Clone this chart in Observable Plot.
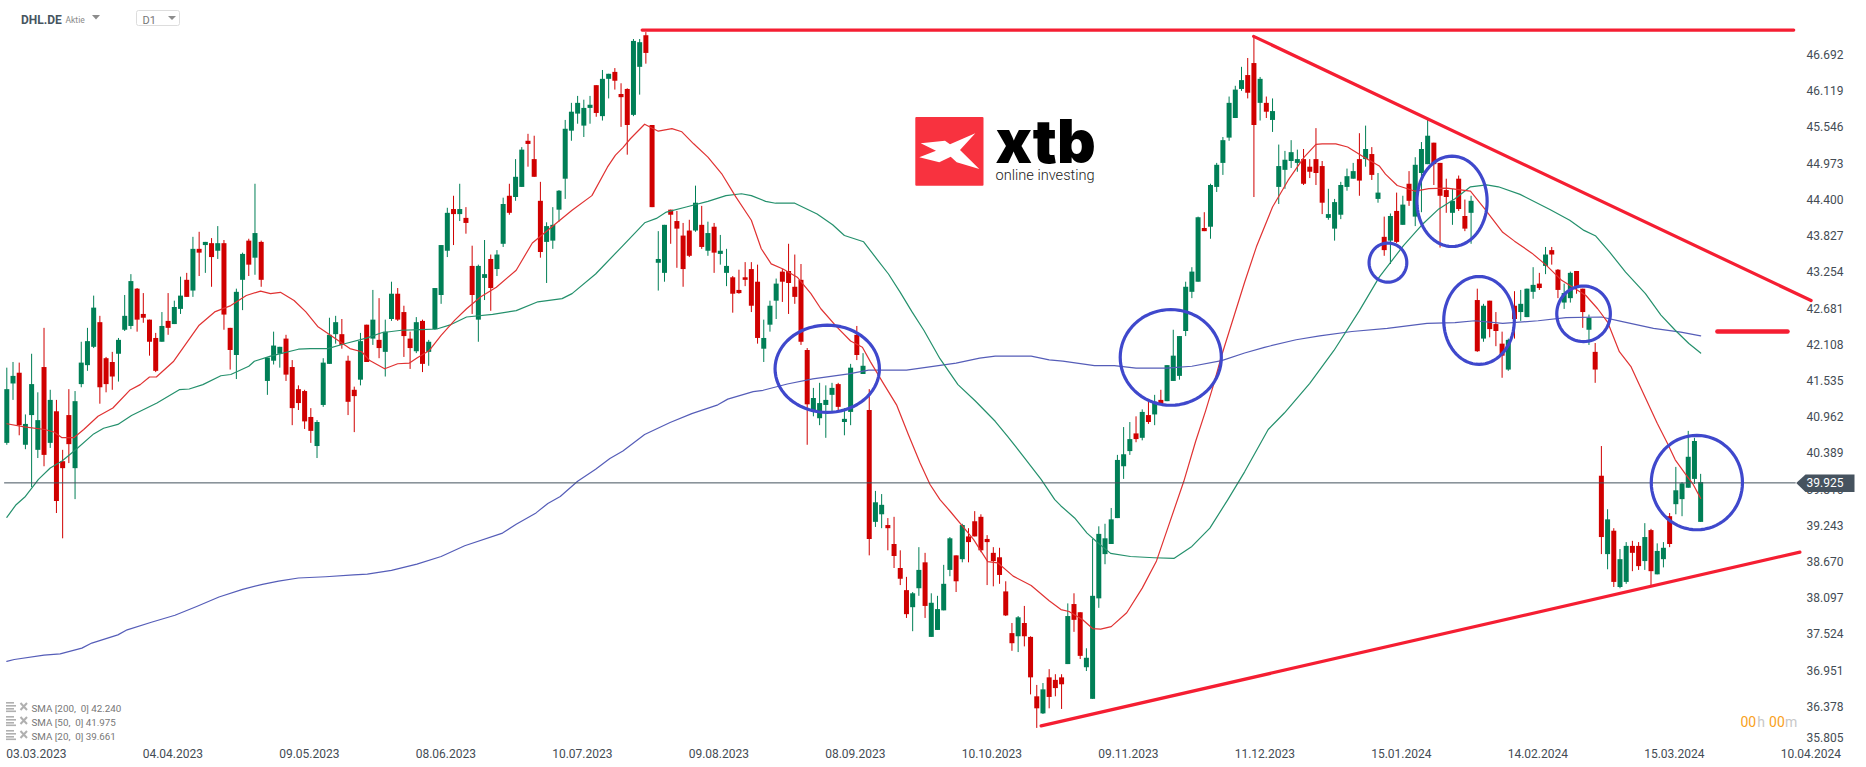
<!DOCTYPE html>
<html><head><meta charset="utf-8">
<script src="https://cdn.jsdelivr.net/npm/d3@7"></script>
<script src="https://cdn.jsdelivr.net/npm/@observablehq/plot@0.6"></script>
<style>html,body{margin:0;padding:0;background:#fff;overflow:hidden}#wrap{position:relative;width:1866px;height:767px}#wrap svg{display:block}#chrome{position:absolute;left:0;top:0;pointer-events:none}</style>
</head><body><div id="wrap"></div>
<script>
const opens=[40.55,41.49,41.66,40.52,40.99,40.44,41.75,40.55,41.05,40.26,
40.99,40.15,41.48,41.78,42.07,42.46,41.89,41.83,41.96,42.34,
42.40,42.99,42.59,42.50,42.21,42.15,42.48,42.43,42.67,43.13,
42.96,43.62,43.68,43.71,43.59,43.71,42.37,41.94,43.13,43.75,
43.48,43.73,41.53,41.85,41.96,42.20,41.75,41.40,41.37,40.96,
40.50,41.15,41.80,42.27,42.27,41.85,41.39,41.55,42.42,42.20,
42.18,41.99,42.51,42.91,42.62,42.20,42.00,42.48,41.99,42.35,
42.89,43.59,44.25,44.17,44.11,43.35,42.50,43.16,43.46,43.30,
43.70,44.46,44.44,44.60,45.33,45.04,44.38,43.73,43.75,44.24,
44.73,45.49,45.76,45.57,45.85,46.21,45.72,46.31,46.42,46.07,
46.15,45.74,46.50,47.00,45.58,43.40,43.24,44.24,44.06,43.83,
43.91,43.91,44.00,43.59,43.97,43.54,43.24,43.17,42.97,43.17,
43.30,43.10,42.04,42.42,42.80,43.26,43.27,43.02,43.13,42.02,
41.04,40.94,41.15,41.31,41.48,40.88,41.04,42.26,41.64,41.07,
39.30,39.42,39.25,38.95,38.57,38.22,37.95,38.25,38.66,37.48,
37.59,37.90,38.54,38.77,38.71,39.07,39.31,39.38,39.03,38.81,
38.74,38.20,37.54,37.49,37.70,37.48,36.54,36.27,36.84,36.80,
36.84,37.05,38.00,37.87,37.00,36.50,38.09,38.79,38.95,39.36,
40.18,40.42,40.70,40.63,40.99,41.00,41.23,41.21,41.53,41.61,
42.32,42.94,43.10,43.95,43.97,44.60,44.98,45.38,45.69,46.15,
46.37,46.56,45.93,45.93,45.66,44.60,44.87,45.01,44.98,45.04,
44.92,45.04,44.93,44.11,43.94,44.16,44.60,44.73,45.04,45.04,
45.12,44.41,43.81,43.75,44.22,44.00,44.65,44.13,44.82,44.96,
45.30,44.98,44.55,44.19,44.73,44.14,44.19,42.81,42.20,42.80,
42.43,42.12,41.71,42.72,42.62,42.54,42.94,43.07,43.35,43.60,
43.29,42.77,42.84,43.27,42.99,42.34,41.99,40.03,38.79,39.16,
38.27,38.35,38.92,38.92,38.68,39.17,38.47,38.71,39.39,39.58,
39.66,39.84,39.98,39.30];
const closes=[41.40,41.61,40.83,40.85,41.48,40.91,40.36,41.23,39.63,40.15,
40.53,41.21,41.82,42.16,42.69,41.43,41.48,41.60,42.18,42.56,
43.11,42.50,42.53,42.15,41.69,42.40,42.37,42.70,42.88,42.86,
43.62,43.56,43.73,43.49,43.71,42.58,42.02,42.94,43.54,43.37,
43.87,43.13,41.90,42.09,42.07,41.63,41.10,41.18,40.89,40.74,
40.88,41.82,42.26,42.46,42.10,41.20,41.29,42.16,41.83,42.50,
42.05,42.31,42.91,42.50,42.24,42.05,42.46,41.80,42.15,43.00,
43.68,44.19,44.17,44.25,44.03,42.89,43.35,43.22,43.00,43.53,
44.33,44.19,44.76,45.19,45.28,44.76,43.57,43.98,44.00,44.54,
45.52,45.79,45.93,45.85,45.90,45.77,46.31,46.39,46.28,46.02,
45.58,46.91,46.89,46.72,44.28,43.46,44.00,44.16,43.94,43.30,
43.51,44.35,43.65,43.87,43.56,43.59,43.35,42.91,42.92,43.13,
42.72,42.21,42.21,42.72,43.07,43.10,43.08,42.86,42.15,41.16,
41.26,41.18,41.23,41.42,41.12,40.93,41.74,41.94,41.77,39.03,
39.61,39.57,39.20,38.76,38.40,37.84,38.17,38.54,37.97,38.02,
37.92,38.32,39.04,38.36,39.25,38.98,39.07,38.85,38.98,38.68,
38.46,37.82,37.38,37.79,37.49,36.84,36.35,36.65,36.53,36.67,
36.73,37.81,37.75,37.18,37.15,38.13,39.11,39.04,39.34,40.28,
40.37,40.61,40.61,41.04,40.88,41.20,41.16,41.78,41.93,42.24,
43.02,43.26,44.12,43.90,44.63,44.95,45.34,45.93,46.14,46.29,
46.09,45.58,46.31,45.79,45.80,44.93,45.03,45.15,45.04,44.65,
44.84,44.82,44.35,44.17,44.36,44.63,44.77,44.85,44.70,45.20,
44.79,44.51,43.60,44.14,43.73,44.32,44.38,44.95,45.20,45.41,
44.96,44.46,44.44,44.38,44.25,43.94,44.38,42.00,42.72,42.35,
42.32,41.93,42.18,42.51,42.75,42.99,43.05,43.00,43.53,43.53,
42.97,42.92,43.24,43.02,42.62,42.53,41.71,39.06,39.34,38.35,
38.71,38.92,38.81,38.60,39.06,38.52,38.84,38.89,38.95,39.80,
39.91,40.33,40.58,39.93];
const highs=[41.74,41.83,41.82,41.00,41.96,41.35,42.37,41.39,41.23,40.44,
41.40,41.37,42.15,42.37,42.88,42.56,41.91,41.99,42.21,42.89,
43.22,43.00,42.92,42.50,42.29,42.62,42.92,42.80,43.18,43.24,
43.81,43.89,43.73,43.79,43.98,43.76,42.37,42.99,43.56,43.78,
44.65,43.75,41.90,42.31,42.07,42.26,41.86,41.46,41.39,41.10,
40.91,41.89,42.53,42.56,42.51,41.93,41.44,42.29,42.42,42.97,
42.84,42.50,43.10,43.00,42.72,42.31,42.54,42.50,42.18,43.00,
43.68,44.27,44.46,44.65,44.28,43.67,43.37,43.76,43.53,43.60,
44.43,44.65,45.04,45.23,45.44,45.41,44.68,44.04,44.28,44.55,
45.66,45.93,46.04,45.98,46.04,46.21,46.45,46.39,46.48,46.24,
46.16,46.94,46.94,47.05,45.58,43.90,44.00,44.24,44.22,44.03,
44.08,44.62,44.30,44.05,44.03,43.84,43.62,43.19,43.29,43.41,
43.41,43.37,42.50,42.80,43.15,43.30,43.70,43.53,43.38,42.05,
41.42,41.50,41.46,41.50,41.50,41.10,41.80,42.40,41.97,41.40,
39.79,39.74,39.36,39.38,38.85,38.43,38.19,38.90,38.81,38.17,
38.13,38.62,39.06,38.77,39.27,39.20,39.47,39.42,39.09,38.90,
38.89,38.36,37.70,37.81,37.97,37.49,36.72,36.75,36.97,36.89,
36.89,38.01,38.17,37.87,37.30,39.03,39.23,39.27,39.52,40.36,
40.80,40.88,40.97,41.08,41.20,41.31,41.39,41.78,42.34,42.24,
43.10,43.33,44.13,44.20,44.65,44.98,45.39,46.03,46.20,46.50,
46.64,46.99,46.34,46.03,46.00,45.27,45.17,45.34,45.19,45.20,
45.04,45.53,45.01,44.57,44.41,44.68,44.89,44.98,45.45,45.57,
45.23,44.82,44.13,44.18,44.51,44.46,44.85,45.07,45.31,45.66,
45.30,44.98,44.73,44.57,44.78,44.40,44.46,42.99,42.75,42.80,
42.62,42.31,42.20,42.95,42.97,42.99,43.33,43.24,43.65,43.65,
43.30,43.07,43.26,43.27,42.99,42.58,42.13,40.50,39.50,39.20,
38.87,38.98,39.00,38.98,39.28,39.19,38.96,38.98,39.44,40.17,
39.93,40.74,40.63,40.06];
const lows=[40.52,41.23,40.67,40.45,39.85,40.31,40.18,40.47,39.44,39.04,
40.23,39.66,41.43,41.69,42.05,41.17,41.35,41.39,41.52,42.32,
42.35,42.31,42.45,41.93,41.67,42.15,42.26,42.43,42.59,42.86,
42.86,43.19,43.24,43.02,43.46,42.34,41.71,41.56,42.65,43.19,
43.21,43.02,41.31,41.79,41.74,41.53,40.83,41.07,40.77,40.55,
40.31,41.12,41.80,42.12,42.04,40.99,40.72,41.46,41.83,42.10,
41.89,41.60,42.48,42.48,41.91,41.72,41.97,41.67,41.77,42.34,
42.75,43.49,43.68,44.06,43.86,42.59,42.15,42.81,42.64,43.19,
43.65,44.16,44.38,44.60,44.92,44.76,43.48,43.08,43.62,44.05,
44.41,45.33,45.60,45.39,45.60,45.71,45.65,46.00,46.14,45.55,
45.11,45.72,46.06,46.55,44.28,42.96,43.10,43.70,43.32,43.02,
43.49,43.89,43.62,43.51,43.24,43.37,43.03,42.61,42.91,43.03,
42.62,42.12,41.83,42.31,42.51,42.78,42.59,42.75,42.10,40.52,
40.97,40.83,40.63,41.04,41.07,40.67,40.83,41.86,41.64,38.77,
39.22,39.20,38.85,38.57,38.30,37.78,37.57,38.13,37.78,37.48,
37.59,37.90,38.44,38.19,38.66,38.66,39.07,38.82,38.30,38.28,
38.32,37.81,37.26,37.24,37.33,36.57,36.04,36.26,36.35,36.54,
36.34,37.05,37.56,37.13,36.94,36.50,37.94,38.63,38.95,39.36,
39.98,40.36,40.56,40.59,40.85,40.83,41.15,41.21,41.53,41.55,
42.24,42.84,43.10,43.90,43.78,44.52,44.79,45.33,45.69,46.12,
46.00,44.44,45.65,45.69,45.47,44.33,44.57,44.90,44.84,44.63,
44.74,44.63,44.17,44.08,43.75,44.09,44.54,44.73,44.46,44.92,
44.71,44.35,43.51,43.38,43.71,44.00,44.30,43.98,44.20,44.96,
44.63,43.64,44.19,44.00,44.22,43.90,43.70,41.99,42.15,42.22,
42.08,41.58,41.69,42.20,42.48,42.54,42.83,42.97,43.22,43.37,
42.84,42.67,42.77,42.91,42.37,42.10,41.50,38.79,38.55,38.27,
38.25,38.32,38.52,38.54,38.54,38.30,38.47,38.58,38.90,39.42,
39.39,39.84,39.90,39.30];

const sma20Idx=[0,2.8,6.1,7.6,8.9,10.8,12.4,14.7,17.1,19.8,21.5,23,24.1,26.9,31,33.5,36.1,38.6,40.9,42.5,44.1,46.3,48.2,50.1,54,55.3,57.2,58.5,60.9,63,64.9,66.1,68.1,70,72.2,74.1,76.4,78.9,82.1,84.7,88.5,91.1,94.3,96.8,98.1,99.3,100.5,102.8,105,107.2,108.8,110.7,113,115.2,117.5,120,121.6,123.2,125.1,127.4,129.6,131.2,133.8,136,137.9,139.2,141.4,143.4,145.3,147.2,148.8,150.4,152,154.2,155.8,158.1,159.7,162.2,165.1,168,169.9,171.2,173.4,175,176.3,178,180.5,183,185.3,187.5,189.7,191.6,193.2,194.5,195.8,199.5,201.4,204,206.5,209.1,211,212,214.2,216.1,218.7,221.2,222.2,224.1,227,229.2,232.1,235.9,238.2,241.1,243,245.8,248.1,250.6,254.5,256.4,258,259.9,261.8,263.1,266,267.6,268.9,270.5,271.8,273];
const sma20Val=[40.86,40.81,40.77,40.73,40.64,40.64,40.77,40.98,41.11,41.39,41.48,41.6,41.6,41.85,42.42,42.63,42.73,42.89,42.96,42.92,42.94,42.81,42.63,42.4,42.14,42.05,42.0,41.86,41.73,41.81,41.82,41.9,42.02,42.26,42.5,42.68,42.87,43.02,43.29,43.72,44.03,44.24,44.47,44.92,45.11,45.23,45.37,45.6,45.49,45.53,45.48,45.29,45.08,44.82,44.45,44.08,43.63,43.39,43.31,43.18,42.92,42.68,42.39,42.17,42.07,41.84,41.48,41.16,40.69,40.24,39.9,39.66,39.48,39.22,39.03,38.68,38.66,38.45,38.3,38.06,37.92,37.89,37.76,37.62,37.61,37.65,37.87,38.26,38.69,39.32,39.95,40.58,41.06,41.48,41.94,43.1,43.66,44.29,44.71,45.08,45.28,45.29,45.29,45.24,45.08,44.94,44.81,44.63,44.54,44.58,44.59,44.54,44.26,43.89,43.75,43.56,43.37,43.13,42.89,42.68,42.47,42.0,41.76,41.48,40.87,40.56,40.29,40.07,39.9,39.68];
const sma50Idx=[0,1.5,3,5.1,7,8.9,11.1,14,15.6,17.9,20.1,24.2,27.8,29.4,31.6,34.5,36.1,39,39.9,42.5,47,48.9,51.7,54.6,58.1,60.4,63.6,66.8,69.3,71.6,74.1,78.3,82.1,85.6,89.5,91.1,94.9,99.3,102.8,104.7,106.3,109.5,113,115.9,118.4,120,122.3,123.9,127,130.6,133.1,135,138.1,140.2,142.1,144,145.9,147.8,150.4,153.3,156.1,159.3,161.3,163.8,166.7,168.9,169.9,172.1,174.1,175.7,177.9,181.1,184.9,188.1,191,193.9,196.8,199.5,203.3,205.9,210,213.9,218,221.2,225.1,228.3,230.8,233.4,235.9,238.5,240.4,243.9,248.7,251.9,254.2,256.1,258.3,260.9,264.1,266.6,268.9,271.1,273];
const sma50Val=[39.38,39.58,39.71,39.98,40.16,40.27,40.45,40.7,40.79,40.85,40.99,41.19,41.4,41.41,41.48,41.62,41.64,41.77,41.85,41.93,42.04,42.05,42.05,42.13,42.22,42.3,42.34,42.35,42.36,42.43,42.55,42.59,42.65,42.79,42.84,42.92,43.23,43.68,44.04,44.11,44.21,44.29,44.38,44.47,44.5,44.47,44.38,44.35,44.35,44.18,44.01,43.84,43.74,43.47,43.23,42.94,42.63,42.34,41.89,41.48,41.22,40.9,40.66,40.35,39.98,39.66,39.56,39.37,39.13,38.99,38.81,38.76,38.74,38.73,38.92,39.21,39.66,40.1,40.77,41.03,41.5,42.02,42.65,43.18,43.68,44.03,44.26,44.42,44.61,44.64,44.61,44.49,44.25,44.08,43.92,43.83,43.58,43.26,42.92,42.58,42.34,42.13,41.98];
const sma200Idx=[0,1.2,6,8.6,12.1,13.7,17.9,19.4,23.3,27.1,30.6,34.2,38,41.2,43.8,47,51.4,55.9,58.1,62,66.1,70,73.8,79.9,82.1,85.3,87.2,89.2,92,94.9,97.2,99.3,102.8,106.9,110.4,114.6,116.2,120.3,121.9,125.8,129.9,135.7,138.9,145,153,156.8,159.3,165.1,168,170.2,175.3,178.5,182,186.9,191,195.8,199.5,202.7,207.8,211.6,216.8,222.5,228.9,233.4,236.6,241.1,246.8,251.3,257,260.2,265.4,269.8,273];
const sma200Val=[37.10,37.13,37.2,37.22,37.31,37.39,37.52,37.6,37.72,37.83,37.97,38.12,38.24,38.32,38.37,38.42,38.44,38.47,38.48,38.54,38.64,38.76,38.93,39.13,39.27,39.45,39.6,39.71,39.95,40.14,40.31,40.43,40.69,40.88,41.02,41.16,41.25,41.37,41.39,41.49,41.57,41.65,41.71,41.71,41.82,41.9,41.93,41.93,41.87,41.85,41.78,41.78,41.74,41.74,41.77,41.86,41.98,42.07,42.19,42.25,42.32,42.37,42.45,42.46,42.49,42.45,42.49,42.54,42.55,42.48,42.37,42.31,42.25];

const priceTicks=[46.692,46.119,45.546,44.973,44.4,43.827,43.254,42.681,42.108,41.535,40.962,40.389,39.816,39.243,38.67,38.097,37.524,36.951,36.378];
const lastTick=[35.805];
const dateTicks=[5,27,49,71,93,115,137,159,181,203,225,247,269,291];
const dateLabels=["03.03.2023","04.04.2023","09.05.2023","08.06.2023","10.07.2023","09.08.2023","08.09.2023","10.10.2023","09.11.2023","11.12.2023","15.01.2024","14.02.2024","15.03.2024","10.04.2024"];
const currentPrice=39.925;
const legendLabels=["SMA [200,  0] 42.240","SMA [50,  0] 41.975","SMA [20,  0] 39.661"];

// hand-drawn analyst annotations, in session index and price
const trendLines=[
  {x:[102.4,288],y:[47.09,47.09],w:3.2},
  {x:[200.95,290.8],y:[46.99,42.81],w:3.2},
  {x:[166.7,289],y:[36.08,38.83],w:3.2},
  {x:[275.7,287],y:[42.32,42.32],w:4.5}
];
const ellipseCx=[132.23,187.6,222.6,232.93,237.28,254.13,272.39];
const ellipseCy=[41.73,41.91,43.41,44.38,42.495,42.6,39.93];
const ellipseRx=[8.41,8.15,3.04,5.66,5.69,4.32,7.35];
const ellipseRy=[0.69,0.757,0.31,0.715,0.695,0.44,0.747];

const candles=opens.map((o,i)=>({i,o,c:closes[i],h:highs[i],l:lows[i],up:closes[i]>=o}));
const UP="#007f56",DOWN="#d00000",FONT="Roboto, sans-serif";
const series=(xs,ys)=>xs.map((x,k)=>({x,y:ys[k]}));
const ellipse=(k)=>d3.range(0,73).map(a=>({g:k,
  x:ellipseCx[k]+ellipseRx[k]*Math.cos(a*Math.PI/36),
  y:ellipseCy[k]+ellipseRy[k]*Math.sin(a*Math.PI/36)}));
const label=(t,X,Y,o={})=>Plot.text([t],{text:d=>d,frameAnchor:"top-left",dx:X,dy:Y,textAnchor:"start",lineAnchor:"middle",fontFamily:FONT,...o});

const tagPoly=[{x:288.4,y:39.925},{x:289.9,y:40.056},{x:297.8,y:40.056},{x:297.8,y:39.78},{x:289.9,y:39.78}];

const chart=Plot.plot({
  width:1866,height:767,marginLeft:0,marginTop:0,marginRight:60,marginBottom:27,
  style:{background:"#fff",fontFamily:FONT},
  x:{type:"linear",domain:[-1.0154,290.06],range:[0,1806],axis:null},
  y:{type:"linear",domain:[35.8487,47.5575],range:[740,0],axis:null},
  marks:[
    Plot.axisY(priceTicks,{anchor:"right",tickSize:0,tickPadding:0,tickFormat:".3f",label:null,fontSize:12,fill:"#444c54",fontFamily:FONT}),
    Plot.axisY(lastTick,{anchor:"right",tickSize:0,tickPadding:0,tickFormat:".3f",label:null,fontSize:12,fill:"#444c54",fontFamily:FONT,dy:-5.5}),
    Plot.axisX(dateTicks,{anchor:"bottom",tickSize:0,tickPadding:9,label:null,fontSize:12,fill:"#444c54",fontFamily:FONT,dx:-1.5,
      tickFormat:d=>dateLabels[dateTicks.indexOf(d)]}),
    Plot.ruleX(candles,{x:"i",y1:"l",y2:"h",stroke:d=>d.up?UP:DOWN,strokeWidth:1}),
    Plot.ruleX(candles,{x:"i",y1:"o",y2:"c",stroke:d=>d.up?UP:DOWN,strokeWidth:5}),
    Plot.line(series(sma200Idx,sma200Val),{x:"x",y:"y",stroke:"#555db8",strokeWidth:1.2}),
    Plot.line(series(sma50Idx,sma50Val),{x:"x",y:"y",stroke:"#24906c",strokeWidth:1.2}),
    Plot.line(series(sma20Idx,sma20Val),{x:"x",y:"y",stroke:"#e03232",strokeWidth:1.2}),
    Plot.ruleY([currentPrice],{x1:-0.35,x2:288.4,stroke:"#44525e",strokeWidth:1}),
    Plot.line(tagPoly,{x:"x",y:"y",fill:"#46535f",stroke:"none"}),
    Plot.text([currentPrice],{x:290.06,y:d=>d,text:d=>d.toFixed(3),textAnchor:"start",fill:"#fff",fontSize:12,fontFamily:FONT}),
    ...trendLines.map(t=>Plot.line(series(t.x,t.y),{x:"x",y:"y",stroke:"#f51e32",strokeWidth:t.w})),
    ...ellipseCx.map((_,k)=>Plot.line(ellipse(k),{x:"x",y:"y",stroke:"#3f48cc",strokeWidth:3.2})),
    label("DHL.DE",20.5,19.5,{fontSize:12,fontWeight:700,fill:"#47555f"}),
    label("Aktie",65,19.5,{fontSize:8.5,fill:"#8a8a8a"}),
    label("D1",142,20,{fontSize:11,fill:"#777"}),
    ...legendLabels.map((t,k)=>label(t,31,708+14*k,{fontSize:9.8,fill:"#777"})),
    label("xtb",995,143.5,{fontSize:60,fontWeight:900,fill:"#000",letterSpacing:"1.5px",fontFamily:"Inter, Roboto, sans-serif"}),
    label("online investing",995,174.7,{fontSize:14.6,fontWeight:300,fill:"#222"}),
    label("00",1740,722,{fontSize:14,fill:"#f9a11b"}),
    label("h",1756.7,722,{fontSize:14,fill:"#c8c8c8"}),
    label("00",1768.6,722,{fontSize:14,fill:"#f9a11b"}),
    label("m",1784.5,722,{fontSize:14,fill:"#c8c8c8"})
  ]
});
const wrap=document.getElementById("wrap");
wrap.appendChild(chart);

// page furniture that is not chart data: logo mark, drop-downs, legend icons
const c=d3.select(wrap).append("svg").attr("id","chrome").attr("width",1866).attr("height",767);
c.append("rect").attr("x",915.3).attr("y",117).attr("width",68.2).attr("height",68.7).attr("rx",1).attr("fill","#f8323f");
c.append("polygon").attr("fill","#fff").attr("points","920.7,143.3 945,140.7 950,144.3 975.3,133.3 960,150 979.3,169 956.7,162.3 950.7,156.7 939.3,162.3 919.3,157.3 936,150.7");
c.append("polygon").attr("fill","#8c8c8c").attr("points","92,15 100,15 96,19.5");
c.append("rect").attr("x",136.5).attr("y",10.5).attr("width",43).attr("height",15).attr("rx",2).attr("fill","none").attr("stroke","#ddd");
c.append("polygon").attr("fill","#8c8c8c").attr("points","168,16 176,16 172,20");
[708,722,736].forEach(y=>{
  [-5.5,-2.5,0.5,3].forEach(d=>c.append("rect").attr("x",6).attr("y",y+d-0.5).attr("width",d===-2.5?10:(d===3?10:8)).attr("height",1.6).attr("fill","#b0b0b0"));
  c.append("path").attr("d",`M20.5 ${y-5}L27 ${y+2}M27 ${y-5}L20.5 ${y+2}`).attr("stroke","#b0b0b0").attr("stroke-width",2).attr("fill","none");
});
</script></body></html>
